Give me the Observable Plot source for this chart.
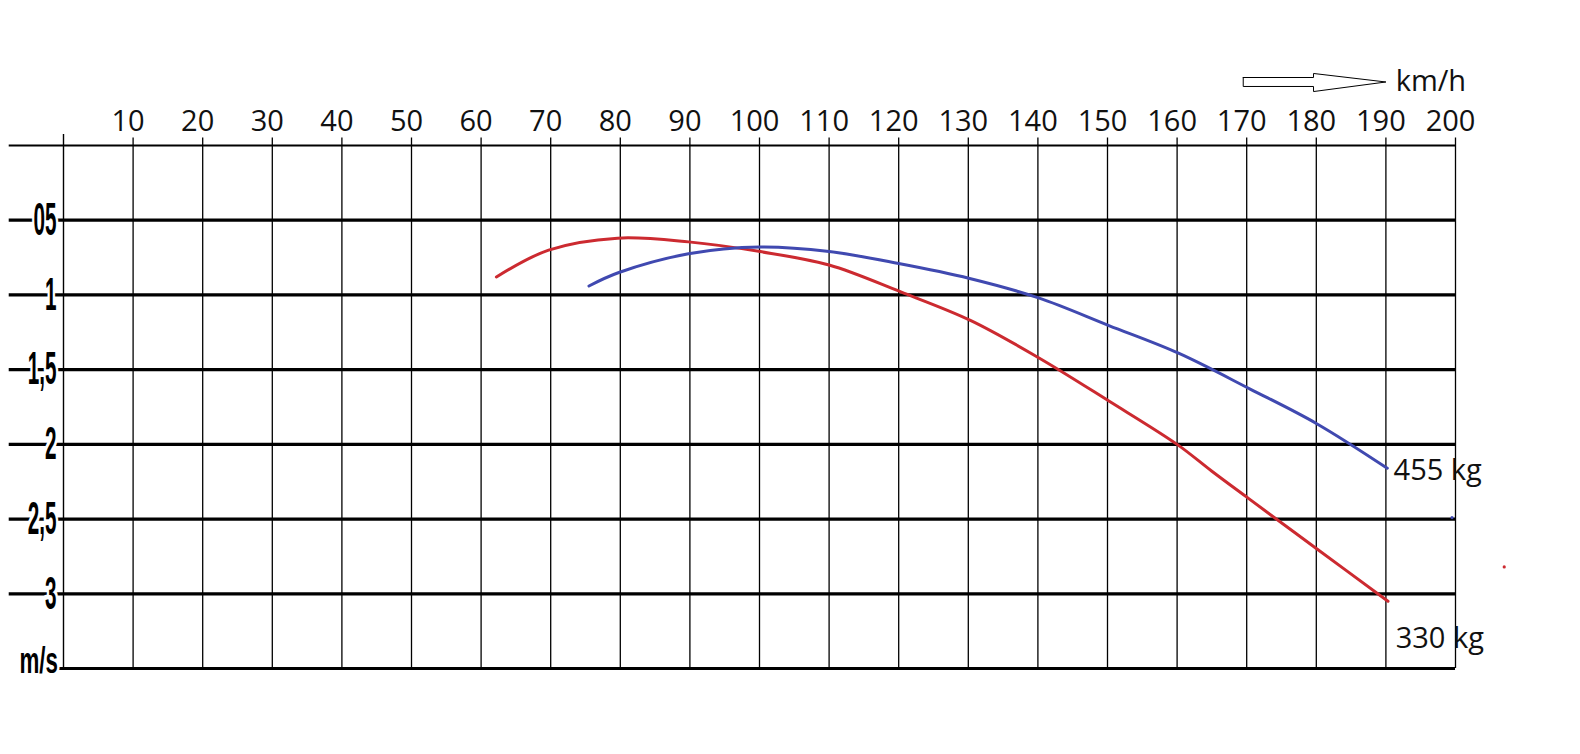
<!DOCTYPE html>
<html>
<head>
<meta charset="utf-8">
<script src="https://cdn.jsdelivr.net/npm/d3@7"></script>
<script src="https://cdn.jsdelivr.net/npm/@observablehq/plot@0.6"></script>
<style>
  html, body { margin: 0; padding: 0; background: #fff; }
</style>
</head>
<body>
<div id="chart"></div>
<script>
// ---- data ----
const speedTicks = [10,20,30,40,50,60,70,80,90,100,110,120,130,140,150,160,170,180,190,200];
const sinkLines  = [-0.5,-1,-1.5,-2,-2.5,-3];
const sinkLabels = ["05","1","1,5","2","2,5","3"];
const xUnit = "km/h";
const yUnit = "m/s";

// 330 kg polar (red)
const speed330 = [62.2,69.7,79.6,89.8,100.1,110,120.3,130.3,140.1,150.2,160,165,170.2,180.1,190.3];
const sink330  = [-0.88,-0.70,-0.62,-0.645,-0.71,-0.80,-0.98,-1.17,-1.42,-1.71,-2.00,-2.18,-2.36,-2.70,-3.05];
// 455 kg polar (blue)
const speed455 = [75.5,79.8,89.8,100.1,110,120,130.2,140.1,150.2,160.2,170.5,180,190.2];
const sink455  = [-0.94,-0.85,-0.725,-0.68,-0.71,-0.79,-0.89,-1.02,-1.205,-1.39,-1.63,-1.86,-2.16];
const seriesNames = ["330 kg","455 kg"];
const seriesColors = ["#cc2a30","#4049b0"];
// stray dots visible in the picture
const strayX = [199.5, 207];
const strayY = [-2.49, -2.82];
const strayColor = ["#4049b0", "#cc2a30"];
// outline arrow next to the km/h label
const arrowX = [169.5,179.6,179.6,190,179.6,179.6,169.5,169.5];
const arrowY = [0.455,0.455,0.482,0.425,0.361,0.395,0.395,0.455];

// ---- tables ----
const red  = speed330.map((s,i) => ({s, v: sink330[i]}));
const blue = speed455.map((s,i) => ({s, v: sink455[i]}));
const arrow = arrowX.map((x,i) => ({x, y: arrowY[i]}));
const stray = strayX.map((x,i) => ({x, y: strayY[i], c: strayColor[i]}));

const xMin = -7.8, xMax = 200;

const svg = Plot.plot({
  width: 1580,
  height: 754,
  margin: 0,
  style: { background: "white" },
  x: { domain: [0, 200], range: [63, 1455], axis: null },
  y: { domain: [0, -3.5], range: [145, 668], axis: null },
  marks: [
    // horizontal grid
    Plot.ruleY(sinkLines, { x1: xMin, x2: xMax, stroke: "black", strokeWidth: 3.2 }),
    Plot.ruleY([0], { x1: xMin, x2: xMax, stroke: "black", strokeWidth: 2.2 }),
    Plot.ruleY([-3.5], { x1: -0.7, x2: xMax, stroke: "black", strokeWidth: 3 }),
    // y labels (condensed later)
    Plot.text(sinkLines, {
      x: -1.0, y: d => d, text: (d, i) => sinkLabels[i],
      textAnchor: "end", lineAnchor: "middle",
      fontSize: 46, fontWeight: "bold", fontFamily: "Liberation Sans",
      fill: "black", stroke: "white", strokeWidth: 10, paintOrder: "stroke",
      ariaDescription: "ylabels"
    }),
    Plot.text([yUnit], {
      x: -0.8, y: -3.527, text: d => d,
      textAnchor: "end", lineAnchor: "bottom",
      fontSize: 36, fontWeight: "bold", fontFamily: "Liberation Sans",
      fill: "black", stroke: "white", strokeWidth: 8, paintOrder: "stroke",
      ariaDescription: "yunit"
    }),
    // vertical grid
    Plot.ruleX(speedTicks, { y1: 0.05, y2: -3.5, stroke: "black", strokeWidth: 1.3 }),
    Plot.ruleX([0], { y1: 0.074, y2: -3.5, stroke: "black", strokeWidth: 1.4 }),
    // x tick labels on top
    Plot.text(speedTicks, {
      x: d => d, y: 0.1, text: d => String(d), dx: -5,
      textAnchor: "middle", lineAnchor: "bottom",
      fontSize: 29, fontFamily: "Open Sans", fill: "#111"
    }),
    // arrow + km/h
    Plot.line(arrow, { x: "x", y: "y", stroke: "black", strokeWidth: 1, curve: "linear" }),
    Plot.text([xUnit], {
      x: 191.4, y: 0.368, text: d => d, textAnchor: "start", lineAnchor: "bottom",
      fontSize: 29, fontFamily: "Open Sans", fill: "#111"
    }),
    // curves
    Plot.line(red,  { x: "s", y: "v", stroke: seriesColors[0], strokeWidth: 3, curve: "catmull-rom" }),
    Plot.line(blue, { x: "s", y: "v", stroke: seriesColors[1], strokeWidth: 3, curve: "catmull-rom" }),
    Plot.dot(stray, { x: "x", y: "y", fill: d => d.c, r: 1.6, stroke: null }),
    // series labels
    Plot.text([seriesNames[1]], {
      x: 191.1, y: sink455[sink455.length - 1] - 0.076, text: d => d,
      textAnchor: "start", lineAnchor: "bottom",
      fontSize: 29, fontFamily: "Open Sans", fill: "#111"
    }),
    Plot.text([seriesNames[0]], {
      x: 191.4, y: -3.36, text: d => d,
      textAnchor: "start", lineAnchor: "bottom",
      fontSize: 29, fontFamily: "Open Sans", fill: "#111"
    })
  ]
});

// condense the hand-lettered y labels (append a horizontal scale to each text's own transform)
function condense(selector, sx) {
  d3.select(svg).selectAll(selector).each(function() {
    const t = this.getAttribute("transform") || "";
    this.setAttribute("transform", `${t} scale(${sx},1)`);
  });
}
condense('g[aria-description="ylabels"] text', 0.45);
condense('g[aria-description="yunit"] text', 0.62);

document.getElementById("chart").appendChild(svg);
</script>
</body>
</html>
